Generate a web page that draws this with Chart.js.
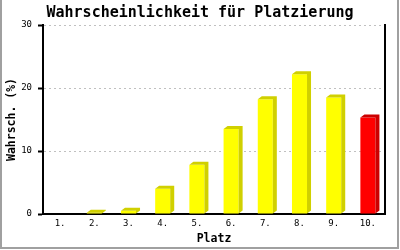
<!DOCTYPE html>
<head>
    <meta charset="utf-8">
    <title>Wahrscheinlichkeit für Platzierung</title>
    <script src="https://cdn.jsdelivr.net/npm/chart.js"></script>
    <style>
        body { margin: 0; background: #fff; }
        canvas { display: block; }
    </style>
</head>
<body>
<canvas id="chart" width="400" height="250"></canvas>

<script>
    const places = ['1.', '2.', '3.', '4.', '5.', '6.', '7.', '8.', '9.', '10.'];
    const probs = [0, 0.2, 0.5, 4.0, 7.8, 13.5, 18.2, 22.2, 18.5, 15.3];
    const barColors = ['#ffff00', '#ffff00', '#ffff00', '#ffff00', '#ffff00',
                       '#ffff00', '#ffff00', '#ffff00', '#ffff00', '#ff0000'];
    const sideColors = ['#d0d000', '#d0d000', '#d0d000', '#d0d000', '#d0d000',
                        '#d0d000', '#d0d000', '#d0d000', '#d0d000', '#cc0000'];
    const yTicks = [0, 10, 20, 30];

    const mono = "'DejaVu Sans Mono', monospace";

    // fake 3d: side and top face behind each bar
    const depthPlugin = {
        id: 'depth',
        afterDatasetsDraw(chart) {
            const ctx = chart.ctx;
            const meta = chart.getDatasetMeta(0);
            const dx = 4, dy = 3;
            meta.data.forEach((bar, i) => {
                if (!probs[i]) return;
                const l = bar.x - bar.width / 2;
                const r = bar.x + bar.width / 2;
                ctx.save();
                ctx.fillStyle = sideColors[i];
                ctx.beginPath();
                ctx.moveTo(l, bar.y);
                ctx.lineTo(l + dx, bar.y - dy);
                ctx.lineTo(r + dx, bar.y - dy);
                ctx.lineTo(r + dx, bar.base - dy);
                ctx.lineTo(r, bar.base);
                ctx.lineTo(r, bar.y);
                ctx.closePath();
                ctx.fill();
                ctx.restore();
            });
        }
    };

    // white background and gray outer border (left, right, bottom)
    const framePlugin = {
        id: 'frame',
        beforeDraw(chart) {
            const ctx = chart.ctx;
            ctx.save();
            ctx.fillStyle = '#fff';
            ctx.fillRect(0, 0, chart.width, chart.height);
            ctx.restore();
        },
        afterDraw(chart) {
            const ctx = chart.ctx;
            ctx.save();
            ctx.strokeStyle = '#a0a0a0';
            ctx.lineWidth = 2;
            ctx.beginPath();
            ctx.moveTo(1, 0);
            ctx.lineTo(1, 248);
            ctx.lineTo(398, 248);
            ctx.lineTo(398, 0);
            ctx.stroke();
            ctx.restore();
        }
    };

    new Chart(document.getElementById('chart'), {
        type: 'bar',
        data: {
            labels: places,
            datasets: [{
                data: probs,
                backgroundColor: barColors,
                borderWidth: 0,
                categoryPercentage: 1,
                barPercentage: 0.44
            }]
        },
        options: {
            responsive: false,
            animation: false,
            layout: { padding: 0 },
            plugins: {
                legend: { display: false },
                tooltip: { enabled: false },
                title: {
                    display: true,
                    text: 'Wahrscheinlichkeit für Platzierung',
                    color: '#000',
                    font: { family: mono, size: 15, weight: 'bold' },
                    padding: { top: 4, bottom: 3 }
                }
            },
            scales: {
                x: {
                    grid: { display: false, drawTicks: false },
                    border: { display: true, color: '#000', width: 2 },
                    ticks: { color: '#000', font: { family: mono, size: 9 }, padding: 4, maxRotation: 0 },
                    title: {
                        display: true,
                        text: 'Platz',
                        color: '#000',
                        font: { family: mono, size: 11.5, weight: 'bold' },
                        padding: { top: 0, bottom: 4 }
                    },
                    afterFit(scale) { scale.height = 36; }
                },
                y: {
                    min: 0,
                    max: 30,
                    afterBuildTicks(scale) { scale.ticks = yTicks.map(v => ({ value: v })); },
                    grid: {
                        color: '#c0c0c0',
                        lineWidth: 1,
                        tickColor: '#000',
                        tickWidth: 2,
                        tickLength: 5
                    },
                    border: { display: true, color: '#000', width: 2, dash: [2, 3] },
                    ticks: { color: '#000', font: { family: mono, size: 9 }, padding: 6 },
                    title: {
                        display: true,
                        text: 'Wahrsch. (%)',
                        color: '#000',
                        font: { family: mono, size: 11.5, weight: 'bold' },
                        padding: { top: 5, bottom: 0 }
                    },
                    afterFit(scale) { scale.width = 43; }
                },
                // right edge of the plot
                yRight: {
                    position: 'right',
                    min: 0,
                    max: 30,
                    grid: { display: false, drawTicks: false },
                    ticks: { display: false },
                    border: { display: true, color: '#000', width: 2 },
                    afterFit(scale) { scale.width = 15; }
                }
            }
        },
        plugins: [depthPlugin, framePlugin]
    });
</script>
</body>
</html>
